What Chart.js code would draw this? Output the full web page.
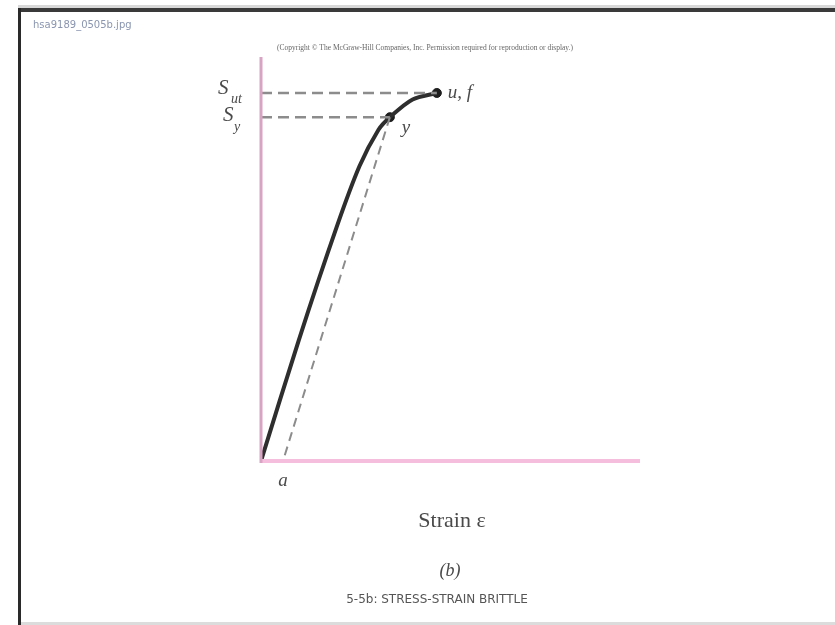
<!DOCTYPE html>
<html>
<head>
<meta charset="utf-8">
<script src="https://cdn.jsdelivr.net/npm/chart.js@4"></script>
<style>
  html, body { margin: 0; padding: 0; background: #fff; }
  #page { position: relative; width: 835px; height: 625px; overflow: hidden; }
  #topgrey { position: absolute; left: 18px; right: 0; top: 5px; height: 3px; background: #d8d8d8; }
  #topdark { position: absolute; left: 18px; right: 0; top: 8px; height: 4px; background: #3a3a3a; }
  #leftdark { position: absolute; left: 18px; top: 8px; bottom: 0; width: 3px; background: #2a2a2a; }
  #bottomgrey { position: absolute; left: 21px; right: 0; top: 622px; height: 3px; background: #dcdcdc; }
  canvas { position: absolute; left: 0; top: 0; }
</style>
</head>
<body>
<div id="page">
  <canvas id="chart" width="835" height="625"></canvas>
  <div id="topgrey"></div>
  <div id="topdark"></div>
  <div id="leftdark"></div>
  <div id="bottomgrey"></div>
</div>
<script>
// Stress-strain curve for a brittle material (values in arbitrary units 0..100)
const curveStrain = [0, 10, 20, 26, 31, 34.0, 40, 46.4];
const curveStress = [0, 30, 58, 73, 82, 85.1, 89.5, 91.1];

// Yield point y and ultimate/fracture point u, f
const yieldPoint = { x: 34.0, y: 85.1 };
const ultimatePoint = { x: 46.4, y: 91.1 };
// Offset point a on the strain axis
const offsetStrain = 5.8;

const curveData = curveStrain.map((x, i) => ({ x: x, y: curveStress[i] }));

const labelColor = '#4a4a4a';

const annotations = {
  id: 'annotations',
  afterDatasetsDraw(chart) {
    const c = chart.ctx;
    const xs = chart.scales.x;
    const ys = chart.scales.y;
    const area = chart.chartArea;
    const x0 = xs.getPixelForValue(0);
    const y0 = ys.getPixelForValue(0);
    c.save();

    // axes
    c.lineCap = 'butt';
    c.strokeStyle = '#f4bedc';
    c.lineWidth = 4;
    c.beginPath();
    c.moveTo(x0, y0);
    c.lineTo(area.right, y0);
    c.stroke();
    c.strokeStyle = '#d9a3c3';
    c.lineWidth = 3;
    c.beginPath();
    c.moveTo(x0, area.top);
    c.lineTo(x0, y0 + 2);
    c.stroke();

    c.fillStyle = labelColor;
    c.textBaseline = 'alphabetic';

    // S_ut and S_y
    const yu = ys.getPixelForValue(ultimatePoint.y);
    const yy = ys.getPixelForValue(yieldPoint.y);
    c.font = 'italic 21px "Liberation Serif", serif';
    c.textAlign = 'left';
    c.fillText('S', 218, yu + 1);
    c.font = 'italic 14px "Liberation Serif", serif';
    c.fillText('ut', 231, yu + 10);
    c.font = 'italic 21px "Liberation Serif", serif';
    c.fillText('S', 223, yy + 4);
    c.font = 'italic 14px "Liberation Serif", serif';
    c.fillText('y', 234, yy + 14);

    // point labels
    c.font = 'italic 19px "Liberation Serif", serif';
    const xu = xs.getPixelForValue(ultimatePoint.x);
    c.fillText('u, f', xu + 11, yu + 5);
    const xy = xs.getPixelForValue(yieldPoint.x);
    c.fillText('y', xy + 12, yy + 16);
    c.textAlign = 'center';
    c.fillText('a', xs.getPixelForValue(offsetStrain), y0 + 25);

    // axis title and captions
    c.font = '22px "Liberation Serif", serif';
    c.fillText('Strain \u03b5', 452, 527);
    c.font = 'italic 18px "Liberation Serif", serif';
    c.fillText('(b)', 450, 576);
    c.font = '12px "DejaVu Sans", sans-serif';
    c.fillStyle = '#555';
    c.fillText('5-5b: STRESS-STRAIN BRITTLE', 437, 603);

    // header texts
    c.font = '7.5px "Liberation Serif", serif';
    c.fillStyle = '#666';
    c.fillText('(Copyright \u00a9 The McGraw-Hill Companies, Inc. Permission required for reproduction or display.)', 425, 50);
    c.textAlign = 'left';
    c.font = '10px "DejaVu Sans", sans-serif';
    c.fillStyle = '#8a96b0';
    c.fillText('hsa9189_0505b.jpg', 33, 28);
    c.restore();
  }
};

new Chart(document.getElementById('chart'), {
  type: 'scatter',
  data: {
    datasets: [
      {
        // guide to S_ut
        data: [{ x: 0, y: ultimatePoint.y }, ultimatePoint],
        showLine: true,
        borderColor: '#8c8c8c',
        borderWidth: 2.5,
        borderDash: [11, 6],
        pointRadius: 0
      },
      {
        // guide to S_y
        data: [{ x: 0, y: yieldPoint.y }, yieldPoint],
        showLine: true,
        borderColor: '#8c8c8c',
        borderWidth: 2.5,
        borderDash: [11, 6],
        pointRadius: 0
      },
      {
        // unloading line from y to a
        data: [yieldPoint, { x: offsetStrain, y: 0 }],
        showLine: true,
        borderColor: '#8c8c8c',
        borderWidth: 2,
        borderDash: [9, 6],
        pointRadius: 0
      },
      {
        data: curveData,
        showLine: true,
        borderColor: '#2e2e2e',
        borderWidth: 4,
        tension: 0.3,
        pointRadius: 0
      },
      {
        data: [yieldPoint, ultimatePoint],
        showLine: false,
        pointRadius: 4.5,
        backgroundColor: '#1e1e1e',
        borderColor: '#1e1e1e'
      }
    ]
  },
  options: {
    responsive: false,
    animation: false,
    layout: { padding: { left: 261, right: 195, top: 57, bottom: 164 } },
    plugins: { legend: { display: false }, tooltip: { enabled: false } },
    scales: {
      x: { type: 'linear', min: 0, max: 100, display: false },
      y: { type: 'linear', min: 0, max: 100, display: false }
    }
  },
  plugins: [annotations]
});
</script>
</body>
</html>
